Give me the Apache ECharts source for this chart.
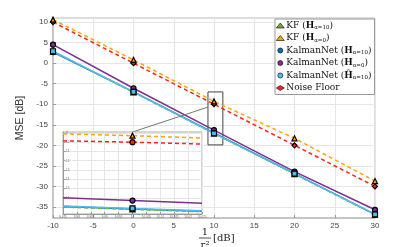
<!DOCTYPE html>
<html>
<head>
<meta charset="utf-8">
<script src="https://cdn.jsdelivr.net/npm/echarts@6/dist/echarts.min.js"></script>
<style>
html,body{margin:0;padding:0;background:#fff;}
#c{width:415px;height:247px;}
</style>
</head>
<body>
<div id="c"></div>
<script>
// ---- data ----
var xValues = [-10, 0, 10, 20, 30];
var kfA10   = [2.8, -7.1, -17.1, -27.0, -36.9];
var kfA0    = [10.6, 0.8, -9.3, -18.3, -28.7];
var knA10   = [2.7, -7.0, -17.0, -26.9, -36.8];
var knA0    = [4.5, -6.1, -16.3, -26.4, -35.7];
var knHat   = [2.9, -7.0, -17.1, -26.9, -36.8];
var noiseFloor = [10, 0, -10, -20, -30];

var xTicks = [-10, -5, 0, 5, 10, 15, 20, 25, 30];
var yTicks = [-35, -30, -25, -20, -15, -10, -5, 0, 5, 10];

// inset (zoom around 1/r^2 = 10 dB)
var insetX = [9.975, 10, 10.025];
var insetXTicks = [9.975, 9.98, 9.985, 9.99, 9.995, 10, 10.005, 10.01, 10.015, 10.02, 10.025];
var insetYTicks = [-17, -16, -15, -14, -13, -12, -11, -10, -9];
var insetKfA10 = [-17.0, -17.25, -17.5];
var insetKfA0  = [-9.1, -9.3, -9.55];
var insetKnA10 = [-16.95, -17.2, -17.45];
var insetKnA0  = [-16.0, -16.3, -16.6];
var insetKnHat = [-16.9, -17.15, -17.4];
var insetNoise = [-9.85, -10.0, -10.2];

// zoom box in main axes [x1, y1, x2, y2]
var zoomBox = [9.25, -7.0, 11.1, -19.9];

var names = ['KF (H α=10)', 'KF (H α=0)', 'KalmanNet (H α=10)', 'KalmanNet (H α=0)', 'KalmanNet (Ĥ α=10)', 'Noise Floor'];
var colors = {
  kfA10: '#77AC30', kfA0: '#FFA500', knA10: '#0072BD', knA0: '#7E2F8E', knHat: '#4DBEEE', noise: '#FF2020'
};

function pairs(xs, ys) { return xs.map(function (x, i) { return [x, ys[i]]; }); }
function insetPairs(ys) {
  return insetX.map(function (x, i) {
    return i === 1 ? [x, ys[i]] : { value: [x, ys[i]], symbol: 'none' };
  });
}

var chart = echarts.init(document.getElementById('c'), null, { renderer: 'canvas' });

function mkSeries(name, data, color, dashed, symbol, xi, yi, extra) {
  var s = {
    name: name, type: 'line', data: data, xAxisIndex: xi, yAxisIndex: yi,
    symbol: symbol, symbolSize: 5, showSymbol: true,
    lineStyle: { color: color, width: 1.5, type: dashed ? [4, 3] : 'solid' },
    itemStyle: { color: color, borderColor: '#000', borderWidth: 1.2 },
    emphasis: { disabled: true }, silent: true, animation: false
  };
  if (extra) for (var k in extra) s[k] = extra[k];
  return s;
}

var tickFont = { fontFamily: 'Liberation Sans, Arial, sans-serif', fontSize: 8, color: '#444' };
var gridLine = { show: true, lineStyle: { color: '#e6e6e6', width: 1 } };

var option = {
  backgroundColor: '#fff',
  animation: false,
  grid: [
    { left: 53, right: 40, top: 18, bottom: 29, show: true, borderColor: '#bdbdbd', borderWidth: 1, z: 0 },
    { left: 63, right: 213, top: 132, bottom: 33, show: true, backgroundColor: '#fff', borderColor: '#aaa', borderWidth: 1, z: 5 }
  ],
  xAxis: [
    { type: 'value', gridIndex: 0, min: -10, max: 30, interval: 5,
      axisLine: { show: true, onZero: false, lineStyle: { color: '#bdbdbd', width: 1.5 } },
      axisTick: { show: true, inside: true, length: 3, lineStyle: { color: '#999' } },
      axisLabel: Object.assign({ margin: 4 }, tickFont),
      splitLine: gridLine },
    { type: 'value', gridIndex: 1, min: 9.975, max: 10.025,
      axisLine: { show: true, onZero: false, lineStyle: { color: '#999', width: 1 } },
      axisTick: { show: true, inside: true, length: 2, customValues: insetXTicks, lineStyle: { color: '#999' } },
      axisLabel: { customValues: insetXTicks, fontSize: 3, color: '#666', margin: 2, fontFamily: 'Liberation Sans, sans-serif',
        formatter: function (v) { return (+v.toFixed(3)).toString(); } },
      splitLine: gridLine, z: 6 }
  ],
  yAxis: [
    { type: 'value', gridIndex: 0, min: -37.7, max: 11,
      axisLine: { show: true, onZero: false, lineStyle: { color: '#bdbdbd', width: 1.5 } },
      axisTick: { show: true, inside: true, length: 3, customValues: yTicks, lineStyle: { color: '#999' } },
      axisLabel: Object.assign({ margin: 5, customValues: yTicks }, tickFont),
      splitLine: gridLine,
      name: 'MSE [dB]', nameLocation: 'middle', nameGap: 17,
      nameTextStyle: { fontFamily: 'Liberation Sans, Arial, sans-serif', fontSize: 10.5, color: '#333' } },
    { type: 'value', gridIndex: 1, min: -17.75, max: -8.9,
      axisLine: { show: true, onZero: false, lineStyle: { color: '#999', width: 1 } },
      axisTick: { show: true, inside: true, length: 2, customValues: insetYTicks, lineStyle: { color: '#999' } },
      axisLabel: { customValues: insetYTicks, fontSize: 3, color: '#666', margin: 2, inside: true, fontFamily: 'Liberation Sans, sans-serif' },
      splitLine: gridLine, z: 6 }
  ],
  legend: {
    orient: 'vertical', left: 275, top: 19, width: 100,
    backgroundColor: '#fff', borderColor: '#999', borderWidth: 1,
    padding: [2, 3, 2, 1], itemGap: 2.5, itemWidth: 8, itemHeight: 5,
    itemStyle: { borderWidth: 0.6, borderColor: '#000' },
    lineStyle: { width: 1.2 },
    data: [
      { name: names[0], icon: 'triangle' },
      { name: names[1], icon: 'triangle' },
      { name: names[2], icon: 'circle' },
      { name: names[3], icon: 'circle' },
      { name: names[4], icon: 'circle' },
      { name: names[5], icon: 'diamond' }
    ],
    textStyle: {
      fontFamily: 'DejaVu Serif, Liberation Serif, serif', fontSize: 9, color: '#111', padding: [0, 0, 0, -3],
      rich: {
        t: { fontFamily: 'DejaVu Serif, Liberation Serif, serif', fontSize: 9, color: '#111' },
        b: { fontFamily: 'DejaVu Serif, Liberation Serif, serif', fontSize: 9, fontWeight: 'bold', color: '#111' },
        s: { fontFamily: 'DejaVu Serif, Liberation Serif, serif', fontSize: 5.5, color: '#111', padding: [5, 0, 0, 0] }
      }
    },
    formatter: function (n) {
      switch (n) {
        case names[0]: return '{t|KF (}{b|H}{s|α=10}{t|)}';
        case names[1]: return '{t|KF (}{b|H}{s|α=0}{t|)}';
        case names[2]: return '{t|KalmanNet (}{b|H}{s|α=10}{t|)}';
        case names[3]: return '{t|KalmanNet (}{b|H}{s|α=0}{t|)}';
        case names[4]: return '{t|KalmanNet (}{b|Ĥ}{s|α=10}{t|)}';
        default: return '{t|Noise Floor}';
      }
    }
  },
  series: [
    mkSeries(names[5], pairs(xValues, noiseFloor), colors.noise, true, 'diamond', 0, 0, {
      markArea: { silent: true, itemStyle: { color: 'rgba(0,0,0,0)', borderColor: '#444', borderWidth: 1 },
        data: [[{ coord: [zoomBox[0], zoomBox[1]] }, { coord: [zoomBox[2], zoomBox[3]] }]] }
    }),
    mkSeries(names[1], pairs(xValues, kfA0), colors.kfA0, true, 'triangle', 0, 0),
    mkSeries(names[3], pairs(xValues, knA0), colors.knA0, false, 'circle', 0, 0),
    mkSeries(names[2], pairs(xValues, knA10), colors.knA10, false, 'circle', 0, 0),
    mkSeries(names[0], pairs(xValues, kfA10), colors.kfA10, true, 'triangle', 0, 0),
    mkSeries(names[4], pairs(xValues, knHat), colors.knHat, false, 'rect', 0, 0),
    // inset
    mkSeries(names[5], insetPairs(insetNoise), colors.noise, true, 'circle', 1, 1, { symbolSize: 5, z: 7 }),
    mkSeries(names[1], insetPairs(insetKfA0), colors.kfA0, true, 'triangle', 1, 1, { symbolSize: 5, z: 7 }),
    mkSeries(names[3], insetPairs(insetKnA0), colors.knA0, false, 'circle', 1, 1, { symbolSize: 5, z: 7 }),
    mkSeries(names[2], insetPairs(insetKnA10), colors.knA10, false, 'circle', 1, 1, { symbolSize: 5, z: 7 }),
    mkSeries(names[0], insetPairs(insetKfA10), colors.kfA10, true, 'triangle', 1, 1, { symbolSize: 5, z: 7 }),
    mkSeries(names[4], insetPairs(insetKnHat), colors.knHat, false, 'rect', 1, 1, { symbolSize: 5, z: 7 })
  ]
};
chart.setOption(option);

// connector line from inset top (x=10) to the zoom box, and the x-axis label (fraction)
var p1 = chart.convertToPixel({ gridIndex: 1 }, [10, -8.9]);
var p2 = chart.convertToPixel({ gridIndex: 0 }, [zoomBox[0], -10.7]);
var serif = 'DejaVu Serif, Liberation Serif, serif';
chart.setOption({
  graphic: [
    { type: 'line', z: 4, shape: { x1: p1[0], y1: p1[1], x2: p2[0], y2: p2[1] }, style: { stroke: '#777', lineWidth: 1 } },
    { type: 'text', x: 205, y: 232, style: { text: '1', font: '10px ' + serif, fill: '#222', align: 'center', verticalAlign: 'middle' } },
    { type: 'line', shape: { x1: 199, y1: 238, x2: 211, y2: 238 }, style: { stroke: '#222', lineWidth: 0.8 } },
    { type: 'text', x: 205, y: 245, style: { text: 'r²', font: '10px ' + serif, fill: '#222', align: 'center', verticalAlign: 'middle' } },
    { type: 'text', x: 213, y: 238, style: { text: '[dB]', font: '10px ' + serif, fill: '#222', align: 'left', verticalAlign: 'middle' } }
  ]
});
</script>
</body>
</html>
